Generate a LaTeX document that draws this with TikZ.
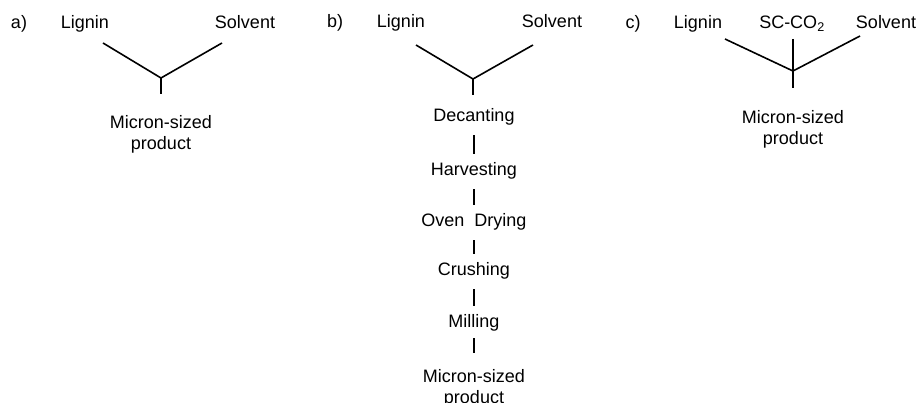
\documentclass[tikz,border=0pt]{standalone}
\usepackage{fontspec}
\setmainfont{Liberation Sans}
\usetikzlibrary{positioning}

\tikzset{
  lbl/.style={anchor=base, inner sep=0pt, text height=13pt, text depth=4pt,
    font=\fontsize{18}{21}\selectfont},
  prod/.style={anchor=north, inner sep=0pt, align=center,
    font=\fontsize{18}{21}\selectfont},
  stroke/.style={line width=1.6pt, black},
  bar/.style={stroke, shorten <=9pt, shorten >=9pt}
}

\begin{document}
\begin{tikzpicture}[x=1pt,y=-1pt]
\useasboundingbox (0,0) rectangle (922,403);

% a) direct route
\node[lbl] (a-tag) at (19,29) {a)};
\node[lbl] (a-lig) at (85,29) {Lignin};
\node[lbl] (a-sol) at (245,29) {Solvent};
\coordinate (a-l) at (103,43);
\coordinate (a-r) at (222,43);
\coordinate (a-j) at (161,78);
\node[prod] (a-out) at (161,115) {Micron-sized\\product};
\draw[stroke] (a-l) -- (a-j) -- (a-r);
\draw[stroke, shorten >=21pt] (a-j) -- (a-out.north);

% b) conventional route
\node[lbl] (b-tag) at (335,28) {b)};
\node[lbl] (b-lig) at (401,28) {Lignin};
\node[lbl] (b-sol) at (552,28) {Solvent};
\coordinate (b-l) at (416,45);
\coordinate (b-r) at (533,45);
\coordinate (b-j) at (473,79);
\node[lbl] (b-dec) at (474,122) {Decanting};
\node[lbl] (b-har) at (474,176) {Harvesting};
\node[lbl] (b-dry) at (474,227) {Oven~~Drying};
\node[lbl] (b-cru) at (474,276) {Crushing};
\node[lbl] (b-mil) at (474,328) {Milling};
\node[prod] (b-out) at (474,369) {Micron-sized\\product};
\draw[stroke] (b-l) -- (b-j) -- (b-r);
\draw[stroke, shorten >=14pt] (b-j) -- (b-j |- b-dec.north);
\draw[bar] (b-dec) -- (b-har);
\draw[bar] (b-har) -- (b-dry);
\draw[bar] (b-dry) -- (b-cru);
\draw[bar] (b-cru) -- (b-mil);
\draw[stroke, shorten <=6pt, shorten >=16pt] (b-mil.south) -- (b-out.north);

% c) supercritical route
\node[lbl] (c-tag) at (633,29) {c)};
\node[lbl] (c-lig) at (698,29) {Lignin};
\node[lbl] (c-sc) at (792,29) {SC-CO\textsubscript{2}};
\node[lbl] (c-sol) at (886,29) {Solvent};
\coordinate (c-l) at (725,39);
\coordinate (c-r) at (860,36);
\coordinate (c-t) at (793,39);
\coordinate (c-j) at (793,71);
\node[prod] (c-out) at (793,110) {Micron-sized\\product};
\draw[stroke] (c-l) -- (c-j) -- (c-r);
\draw[stroke, shorten >=22pt] (c-t) -- (c-out.north);

\end{tikzpicture}
\end{document}
